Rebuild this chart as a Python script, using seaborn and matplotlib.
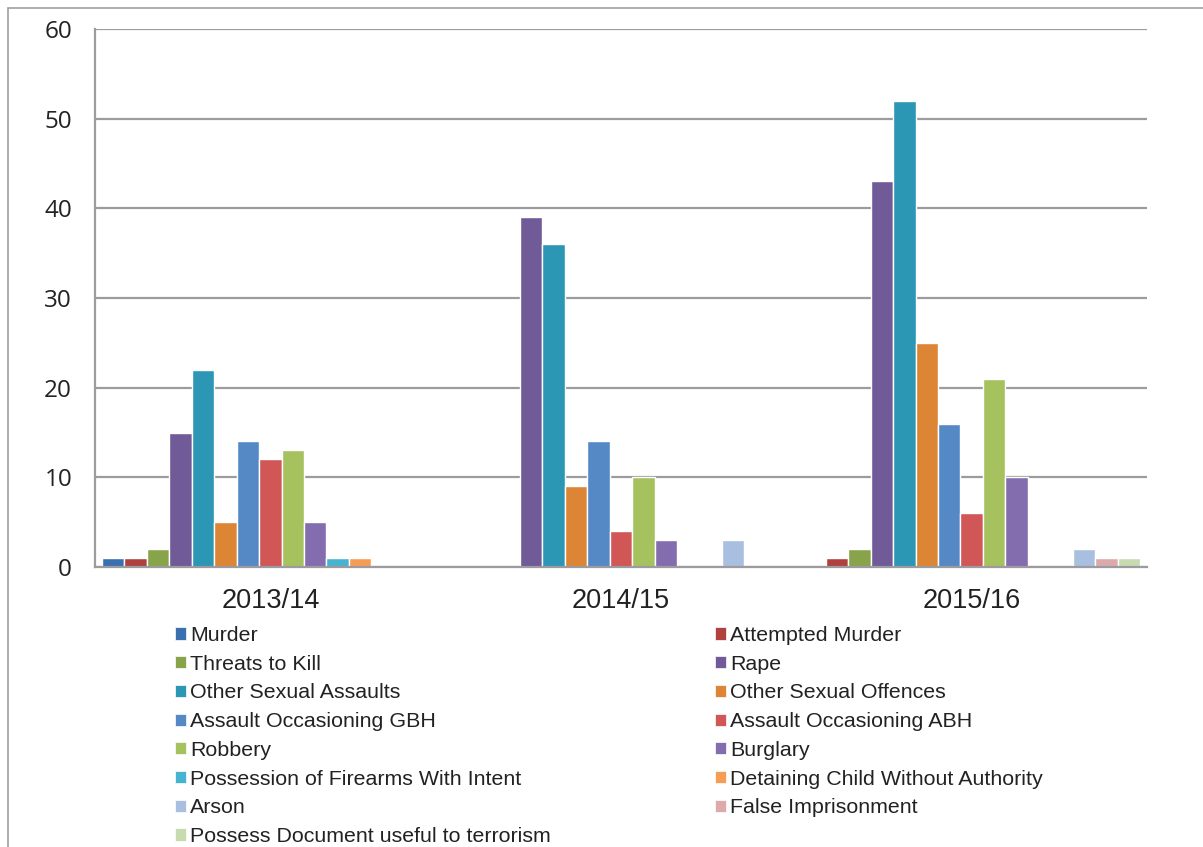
import pandas as pd
import matplotlib.pyplot as plt
import seaborn as sns
from matplotlib.patches import Patch
from matplotlib.lines import Line2D

# Data
years = ['2013/14', '2014/15', '2015/16']
offences = [
    'Murder', 'Attempted Murder', 'Threats to Kill', 'Rape',
    'Other Sexual Assaults', 'Other Sexual Offences',
    'Assault Occasioning GBH', 'Assault Occasioning ABH',
    'Robbery', 'Burglary', 'Possession of Firearms With Intent',
    'Detaining Child Without Authority', 'Arson', 'False Imprisonment',
    'Possess Document useful to terrorism',
]
counts_2013 = [1, 1, 2, 15, 22, 5, 14, 12, 13, 5, 1, 1, 0, 0, 0]
counts_2014 = [0, 0, 0, 39, 36, 9, 14, 4, 10, 3, 0, 0, 3, 0, 0]
counts_2015 = [0, 1, 2, 43, 52, 25, 16, 6, 21, 10, 0, 0, 2, 1, 1]
colors = [
    '#3A6FB0', '#B0413E', '#88A44A', '#705A97', '#2B97B5',
    '#DB8535', '#5589C6', '#D05756', '#A6C25F', '#846DAE',
    '#46B3D1', '#F59D55', '#A9BFE0', '#DDAAAB', '#C7DAB0',
]

rows = []
for year, vals in zip(years, [counts_2013, counts_2014, counts_2015]):
    for off, v in zip(offences, vals):
        rows.append({'year': year, 'offence': off, 'count': v})
df = pd.DataFrame(rows)

sns.set_style("white")
plt.rcParams['font.family'] = ['Liberation Sans', 'DejaVu Sans']

W, H = 1203, 847
fig = plt.figure(figsize=(W / 100, H / 100), dpi=100)
ax = fig.add_axes([95 / W, 1 - 567 / H, (1147 - 95) / W, (567 - 29) / H])

grid_col = '#9C9CA0'
ax.set_axisbelow(True)
ax.yaxis.grid(True, color=grid_col, linewidth=1.6)

sns.barplot(data=df, x='year', y='count', hue='offence', hue_order=offences,
            palette=colors, saturation=1, width=0.96, edgecolor='white',
            linewidth=1.0, legend=False, ax=ax)

ax.set_ylim(0, 60)
ax.set_xlim(-0.5, 2.5)
ax.set_yticks(range(0, 61, 10))
ax.set_xlabel('')
ax.set_ylabel('')

for side in ['top', 'right']:
    ax.spines[side].set_visible(False)
for side in ['left', 'bottom']:
    ax.spines[side].set_color(grid_col)
    ax.spines[side].set_linewidth(1.6)

ax.tick_params(axis='y', length=6.5, width=1.6, color=grid_col, pad=10,
               labelsize=17.5, labelcolor='#222222')
for lbl in ax.get_yticklabels():
    lbl.set_family(['Open Sans', 'DejaVu Sans'])
ax.set_xticks([-0.5, 0.5, 1.5, 2.5], minor=True)
ax.tick_params(axis='x', which='major', length=0, pad=15, labelsize=19.5,
               labelcolor='#222222')
ax.tick_params(axis='x', which='minor', length=6, width=1.6, color=grid_col)

# legend in two columns, row-major order like the original
handles = [Patch(facecolor=c, edgecolor='white', linewidth=0.5) for c in colors]
leg_kw = dict(frameon=False, fontsize=15.4, handlelength=0.5, handleheight=0.5,
              handletextpad=0.2, labelspacing=0.455, borderaxespad=0,
              borderpad=0, labelcolor='#222222')
left_idx = list(range(0, 15, 2))
right_idx = list(range(1, 15, 2))
fig.legend([handles[i] for i in left_idx], [offences[i] for i in left_idx],
           loc='upper left', bbox_to_anchor=(175 / W, 1 - 626 / H), **leg_kw)
fig.legend([handles[i] for i in right_idx], [offences[i] for i in right_idx],
           loc='upper left', bbox_to_anchor=(715 / W, 1 - 626 / H), **leg_kw)

# outer chart frame
fig.add_artist(Line2D([8 / W, 8 / W], [0, 1 - 8 / H], color='#A0A0A0', lw=1.2))
fig.add_artist(Line2D([8 / W, 1], [1 - 8 / H, 1 - 8 / H], color='#A0A0A0', lw=1.2))

plt.savefig('out.png', dpi=100)
